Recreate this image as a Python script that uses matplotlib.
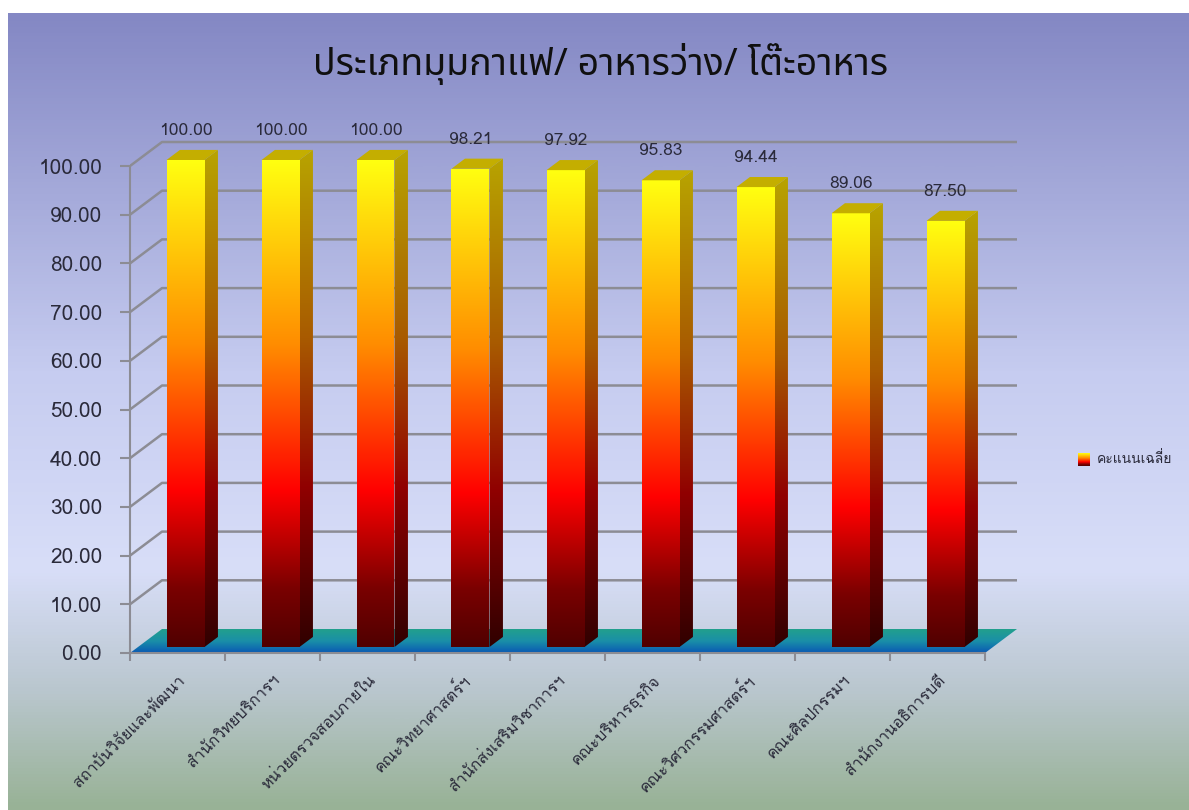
import numpy as np
import matplotlib
matplotlib.use('Agg')
import matplotlib.pyplot as plt
from matplotlib.colors import LinearSegmentedColormap
from matplotlib.patches import Polygon

categories = ['สถาบันวิจัยและพัฒนา', 'สำนักวิทยบริการฯ', 'หน่วยตรวจสอบภายใน',
              'คณะวิทยาศาสตร์ฯ', 'สำนักส่งเสริมวิชาการฯ', 'คณะบริหารธุรกิจ',
              'คณะวิศวกรรมศาสตร์ฯ', 'คณะศิลปกรรมฯ', 'สำนักงานอธิการบดี']
scores = [100.00, 100.00, 100.00, 98.21, 97.92, 95.83, 94.44, 89.06, 87.50]
title = 'ประเภทมุมกาแฟ/ อาหารว่าง/ โต๊ะอาหาร'
series_name = 'คะแนนเฉลี่ย'
y_ticks = list(range(0, 101, 10))

plt.rcParams['font.family'] = ['Loma', 'Noto Sans Thai', 'DejaVu Sans']

W, H = 1189, 810
fig = plt.figure(figsize=(W / 100, H / 100), dpi=100, facecolor='white')

# background panel, top -> bottom
bg = fig.add_axes([8 / W, 0, 1 - 8 / W, 1 - 13 / H])
bg_cmap = LinearSegmentedColormap.from_list('bg', [
    (0.0, '#8488c4'), (0.45, '#c6ccf0'), (0.7, '#d8def8'),
    (0.85, '#bac7cf'), (1.0, '#98b296')])
bg.imshow(np.linspace(0, 1, 256).reshape(-1, 1), cmap=bg_cmap, aspect='auto',
          extent=(0, 1, 0, 1), interpolation='bilinear')
bg.set_xlim(0, 1)
bg.set_ylim(0, 1)
bg.axis('off')

# plot axes: front plane 130..985 px (9 cats), 0..100 -> 653..166 px
PX_X = 95.0
PX_Y = 4.87
XMAX, YMAX = 9.5, 107
ax = fig.add_axes([130 / W, (H - 653) / H, XMAX * PX_X / W, YMAX * PX_Y / H])
ax.set_facecolor('none')
ax.set_xlim(0, XMAX)
ax.set_ylim(0, YMAX)

DX = 32 / PX_X
DY = 24 / PX_Y
n = len(scores)


def grad_poly(pts, cmap, y0, y1, z):
    pts = np.asarray(pts)
    poly = Polygon(pts, closed=True, facecolor='none', edgecolor='none')
    ax.add_patch(poly)
    im = ax.imshow(np.linspace(0, 1, 256).reshape(-1, 1), cmap=cmap,
                   origin='lower', aspect='auto', interpolation='bilinear',
                   extent=(pts[:, 0].min(), pts[:, 0].max(), y0, y1), zorder=z)
    im.set_clip_path(poly)


# gridlines on back wall
for v in y_ticks[1:]:
    ax.plot([0, DX, n + DX], [v, v + DY, v + DY], color='#8c8c94', lw=1.8,
            zorder=1, solid_capstyle='butt')

# floor
floor_cmap = LinearSegmentedColormap.from_list('floor', ['#0a58b4', '#1a8fa8', '#22a08c'])
grad_poly([(0, 0), (n, 0), (n + DX, DY), (DX, DY)], floor_cmap, 0, DY, 2)

front_cmap = LinearSegmentedColormap.from_list('front', [
    (0.0, '#500000'), (0.12, '#7a0000'), (0.32, '#ff0000'),
    (0.62, '#ff8c00'), (1.0, '#ffff10')])
side_cmap = LinearSegmentedColormap.from_list('side', [
    (0.0, '#300000'), (0.32, '#900000'), (0.62, '#a85a00'), (1.0, '#b8a400')])

f0, f1 = 0.25, 0.67
bw = 0.4
for i, v in enumerate(scores):
    xl = i + 0.5 - bw / 2 + f0 * DX
    xr = xl + bw
    yb = f0 * DY
    yt = v + f0 * DY
    ddx = (f1 - f0) * DX
    ddy = (f1 - f0) * DY
    z = 5 + (n - i) * 0.01
    grad_poly([(xr, yb), (xr + ddx, yb + ddy), (xr + ddx, yt + ddy), (xr, yt)],
              side_cmap, yb, yt + ddy, z)
    grad_poly([(xl, yb), (xr, yb), (xr, yt), (xl, yt)], front_cmap, yb, yt, z + 0.001)
    ax.add_patch(Polygon([(xl, yt), (xr, yt), (xr + ddx, yt + ddy), (xl + ddx, yt + ddy)],
                         closed=True, facecolor='#c4ae00', edgecolor='none', zorder=z + 0.002))
    ax.annotate(f'{v:.2f}', (xl + bw / 2, yt), xytext=(0, 21), textcoords='offset points',
                ha='center', va='center', fontsize=12.5, color='#2a2a3a', zorder=10)

# axes styling
for s in ['top', 'right']:
    ax.spines[s].set_visible(False)
ax.spines['left'].set_bounds(0, 100)
ax.spines['bottom'].set_bounds(0, n)
ax.spines['left'].set_color('#8c8c94')
ax.spines['bottom'].set_color('#8c8c94')
ax.spines['left'].set_linewidth(1.5)
ax.spines['bottom'].set_linewidth(1.5)
ax.set_yticks(y_ticks)
ax.set_yticklabels([f'{t:.2f}' for t in y_ticks])
ax.tick_params(axis='y', direction='out', length=7, width=1.5, color='#8c8c94',
               pad=13, labelsize=15, labelcolor='#2a2a3a')
ax.set_xticks(range(n + 1))
ax.set_xticklabels([])
ax.tick_params(axis='x', which='major', direction='out', length=6, width=1.5, color='#8c8c94')
ax.set_xticks([i + 0.5 for i in range(n)], minor=True)
ax.set_xticklabels(categories, minor=True, rotation=45, ha='right', va='top',
                   rotation_mode='anchor', fontsize=11.5, color='#2a2a3a')
ax.tick_params(axis='x', which='minor', length=0, pad=14)

fig.text(0.505, 1 - 64 / H, title, ha='center', va='center', fontsize=27,
         color='#101010', family=['Noto Sans Thai', 'DejaVu Sans'])

# legend
lg = fig.add_axes([1078 / W, (H - 466) / H, 12 / W, 13 / H])
lg.imshow(np.linspace(0, 1, 64).reshape(-1, 1), cmap=front_cmap, origin='lower',
          aspect='auto', extent=(0, 1, 0, 1))
lg.axis('off')
fig.text(1097 / W, 1 - 459 / H, series_name, ha='left', va='center', fontsize=10,
         color='#2a2a3a')

fig.savefig('out.png', dpi=100, facecolor=fig.get_facecolor())
